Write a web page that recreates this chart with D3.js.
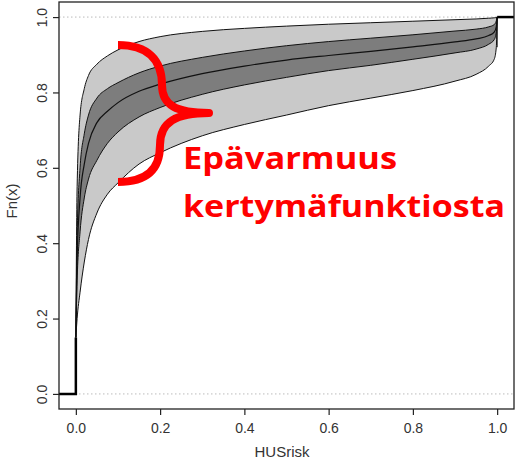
<!DOCTYPE html>
<html>
<head>
<meta charset="utf-8">
<script src="https://cdn.jsdelivr.net/npm/d3@7"></script>
<style>
  body { margin: 0; background: #fff; }
  svg { display: block; }
</style>
</head>
<body>
<div id="chart"></div>
<script>
// HUSrisk grid and the empirical cdf with its uncertainty bands
var xs    = [0, 0.003, 0.01, 0.02, 0.03, 0.05, 0.075, 0.1, 0.15, 0.2, 0.3, 0.4, 0.5, 0.6, 0.7, 0.8, 0.9, 0.95, 0.98, 0.993, 0.998, 1];
var outerHi = [0.15, 0.55, 0.74, 0.81, 0.845, 0.875, 0.897, 0.913, 0.935, 0.948, 0.962, 0.970, 0.976, 0.981, 0.985, 0.989, 0.993, 0.995, 0.997, 0.998, 0.999, 1];
var innerHi = [0.15, 0.42, 0.60, 0.69, 0.74, 0.785, 0.81, 0.826, 0.852, 0.87, 0.893, 0.91, 0.924, 0.935, 0.944, 0.953, 0.963, 0.968, 0.974, 0.98, 0.99, 1];
var median  = [0.15, 0.36, 0.52, 0.61, 0.665, 0.72, 0.75, 0.773, 0.803, 0.822, 0.85, 0.87, 0.886, 0.898, 0.909, 0.921, 0.934, 0.942, 0.951, 0.96, 0.975, 1];
var innerLo = [0.15, 0.30, 0.43, 0.52, 0.57, 0.62, 0.665, 0.695, 0.735, 0.76, 0.795, 0.82, 0.84, 0.858, 0.872, 0.888, 0.905, 0.915, 0.928, 0.94, 0.96, 1];
var outerLo = [0.15, 0.20, 0.27, 0.35, 0.41, 0.48, 0.53, 0.56, 0.61, 0.64, 0.685, 0.715, 0.74, 0.765, 0.785, 0.805, 0.83, 0.848, 0.87, 0.888, 0.92, 1];

// ecdf ends outside the sample range
var stepLeft  = [[-0.04, 0], [0, 0], [0, 0.15]];
var stepRight = [[1, 1], [1.04, 1]];

var xTicks = [0, 0.2, 0.4, 0.6, 0.8, 1.0];
var yTicks = [0, 0.2, 0.4, 0.6, 0.8, 1.0];

var W = 520, H = 462;
var plot = {left: 59, right: 514, top: 2, bottom: 409};

var x = d3.scaleLinear().domain([-0.04, 1.04]).range([plot.left, plot.right]);
var y = d3.scaleLinear().domain([-0.04, 1.04]).range([plot.bottom, plot.top]);

var svg = d3.select("#chart").append("svg")
  .attr("width", W).attr("height", H);

var rows = xs.map(function(v, i) {
  return {x: v, oh: outerHi[i], ih: innerHi[i], m: median[i], il: innerLo[i], ol: outerLo[i]};
});

// reference lines at 0 and 1
svg.append("g").selectAll("line")
  .data([0, 1]).enter().append("line")
  .attr("x1", plot.left).attr("x2", plot.right)
  .attr("y1", function(d) { return y(d); })
  .attr("y2", function(d) { return y(d); })
  .style("stroke", "#bbb")
  .style("stroke-width", 1)
  .style("stroke-dasharray", "1.5,2.5");

var curve = d3.curveMonotoneX;

svg.append("path").datum(rows)
  .attr("d", d3.area().curve(curve)
    .x(function(d) { return x(d.x); })
    .y0(function(d) { return y(d.ol); })
    .y1(function(d) { return y(d.oh); }))
  .style("fill", "#c9c9c9");

svg.append("path").datum(rows)
  .attr("d", d3.area().curve(curve)
    .x(function(d) { return x(d.x); })
    .y0(function(d) { return y(d.il); })
    .y1(function(d) { return y(d.ih); }))
  .style("fill", "#7d7d7d");

["oh", "ih", "m", "il", "ol"].forEach(function(k) {
  svg.append("path").datum(rows)
    .attr("d", d3.line().curve(curve)
      .x(function(d) { return x(d.x); })
      .y(function(d) { return y(d[k]); }))
    .style("fill", "none")
    .style("stroke", "#111")
    .style("stroke-width", k == "m" ? 1.2 : 1);
});

// band edge at x = 1
svg.append("line")
  .attr("x1", x(1)).attr("x2", x(1))
  .attr("y1", y(outerLo[outerLo.length - 2])).attr("y2", y(1))
  .style("stroke", "#111").style("stroke-width", 1);

var stepLine = d3.line()
  .x(function(d) { return x(d[0]); })
  .y(function(d) { return y(d[1]); });

[stepLeft, stepRight].forEach(function(s) {
  svg.append("path").datum(s)
    .attr("d", stepLine)
    .style("fill", "none")
    .style("stroke", "#000")
    .style("stroke-width", 2.5);
});

// frame
svg.append("rect")
  .attr("x", plot.left).attr("y", plot.top)
  .attr("width", plot.right - plot.left).attr("height", plot.bottom - plot.top)
  .style("fill", "none").style("stroke", "#222").style("stroke-width", 1.3);

// axes
var xAxis = d3.axisBottom(x).tickValues(xTicks).tickFormat(d3.format(".1f"))
  .tickSize(6).tickSizeOuter(0);
var gx = svg.append("g").attr("transform", "translate(0," + plot.bottom + ")").call(xAxis);
gx.select(".domain").remove();
gx.selectAll("line").style("stroke", "#222").style("stroke-width", 1.2);
gx.selectAll("text")
  .attr("y", 14)
  .style("font-family", "Liberation Sans, Arial, sans-serif")
  .style("font-size", "14px")
  .style("fill", "#333");

var yAxis = d3.axisLeft(y).tickValues(yTicks).tickFormat(d3.format(".1f"))
  .tickSize(6).tickSizeOuter(0);
var gy = svg.append("g").attr("transform", "translate(" + plot.left + ",0)").call(yAxis);
gy.select(".domain").remove();
gy.selectAll("line").style("stroke", "#222").style("stroke-width", 1.2);
gy.selectAll("text")
  .attr("x", 0).attr("dy", 0)
  .attr("transform", "translate(-12,0) rotate(-90)")
  .style("text-anchor", "middle")
  .style("font-family", "Liberation Sans, Arial, sans-serif")
  .style("font-size", "14px")
  .style("fill", "#333");

svg.append("text")
  .attr("x", 282).attr("y", 457)
  .attr("text-anchor", "middle")
  .style("font-family", "Liberation Sans, Arial, sans-serif")
  .style("font-size", "15px")
  .style("fill", "#333")
  .text("HUSrisk");

svg.append("text")
  .attr("transform", "translate(17,201) rotate(-90)")
  .attr("text-anchor", "middle")
  .style("font-family", "Liberation Sans, Arial, sans-serif")
  .style("font-size", "15px")
  .style("fill", "#333")
  .text("Fn(x)");

// red annotation: brace over the band plus label
svg.append("path")
  .attr("d", "M118,45 C148,45 162,60 162,85 C162,105 176,113 209,113 C176,113 160,122 160,145 C160,170 146,182 118,182")
  .style("fill", "none")
  .style("stroke", "#ff0000")
  .style("stroke-width", 8)
  .style("stroke-linejoin", "round");

var notes = ["Epävarmuus", "kertymäfunktiosta"];
var noteWidth = [214, 322];
var noteBase = [169, 217];
svg.append("g").selectAll("text")
  .data(notes).enter().append("text")
  .attr("x", 183)
  .attr("y", function(d, i) { return noteBase[i]; })
  .attr("textLength", function(d, i) { return noteWidth[i]; })
  .attr("lengthAdjust", "spacingAndGlyphs")
  .style("font-family", "Open Sans, sans-serif")
  .style("font-weight", "bold")
  .style("font-size", "31px")
  .style("fill", "#ff0000")
  .text(function(d) { return d; });
</script>
</body>
</html>
